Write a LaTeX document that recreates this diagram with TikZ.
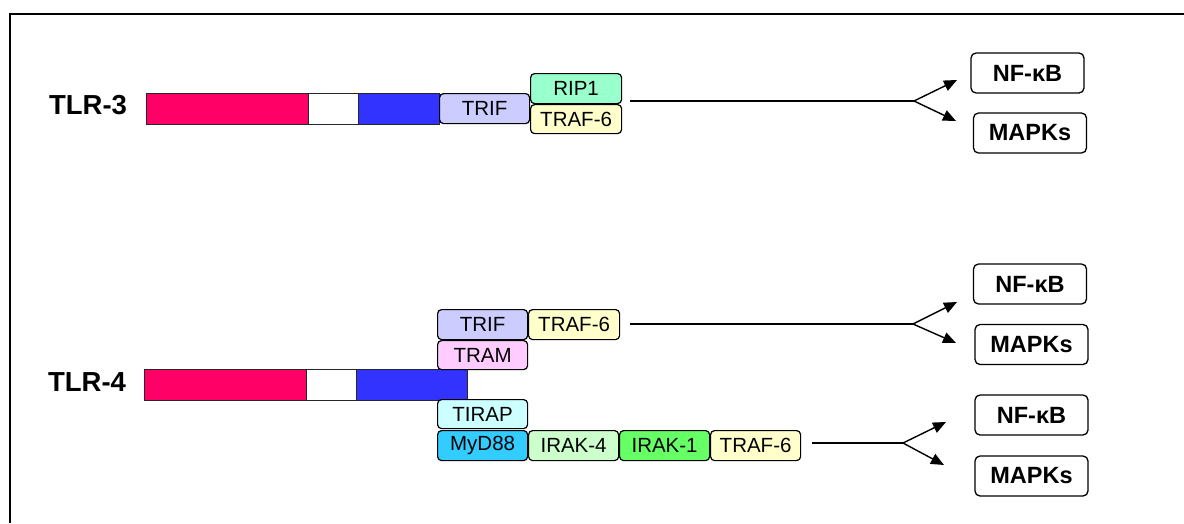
\documentclass[tikz,border=0pt]{standalone}
\usepackage{fontspec}
\setmainfont{Liberation Sans}
\usetikzlibrary{arrows.meta}
\begin{document}
\begin{tikzpicture}[x=1pt,y=-1pt,
  seg/.style={draw=black!85, line width=1.3, anchor=north west, inner sep=0, minimum height=31},
  prot/.style={draw=black, line width=1.2, rounded corners=4, anchor=north west, inner sep=0,
    minimum width=90, minimum height=30, font=\fontsize{20.5}{24}\selectfont},
  outbox/.style={draw=black, line width=1.3, rounded corners=5, inner sep=0,
    minimum width=113, minimum height=40, font=\bfseries\fontsize{23.5}{27}\selectfont},
  tlr/.style={font=\bfseries\fontsize{27.5}{32}\selectfont, inner sep=0},
  sig/.style={line width=1.4, draw=black},
  sigarrow/.style={line width=1.4, draw=black, -{Triangle[length=13,width=11]}}
]
\useasboundingbox (0,0) rectangle (1184,523);
\draw[line width=2] (10,523) -- (10,14) -- (1184,14);

% ---------------- TLR-3 ----------------
\node[tlr] (tlr3) at (88,105) {TLR-3};
\node[seg, fill={rgb,255:red,255;green,0;blue,102}, minimum width=162] (r3) at (146,93) {};
\node[seg, fill=white, minimum width=50] (w3) at (308,93) {};
\node[seg, fill={rgb,255:red,51;green,51;blue,255}, minimum width=81] (b3) at (358,93) {};
\node[prot, fill={rgb,255:red,204;green,204;blue,255}] (trif3) at (439,93) {TRIF};
\node[prot, fill={rgb,255:red,153;green,255;blue,204}, minimum width=91] (rip3) at (530,73) {RIP1};
\node[prot, fill={rgb,255:red,255;green,255;blue,204}, minimum width=91, minimum height=29] (traf3) at (530,104) {TRAF-6};
\coordinate (s3) at (630,101);
\coordinate (br3) at (914,101);
\coordinate (t3a) at (957,80);
\coordinate (t3b) at (956,121);
\node[outbox] (nf3) at (1027.5,73) {NF-κB};
\node[outbox] (mp3) at (1030,133) {MAPKs};
\draw[sig] (s3) -- (br3);
\draw[sigarrow] (br3) -- (t3a);
\draw[sigarrow] (br3) -- (t3b);

% ---------------- TLR-4 ----------------
\node[tlr] (tlr4) at (87,382) {TLR-4};
\node[seg, fill={rgb,255:red,255;green,0;blue,102}, minimum width=162] (r4) at (144,369) {};
\node[seg, fill=white, minimum width=50] (w4) at (306,369) {};
\node[seg, fill={rgb,255:red,51;green,51;blue,255}, minimum width=111] (b4) at (356,369) {};
\node[prot, fill={rgb,255:red,204;green,204;blue,255}] (trif4) at (437,309) {TRIF};
\node[prot, fill={rgb,255:red,255;green,255;blue,204}, minimum width=91] (traf4a) at (528,309) {TRAF-6};
\node[prot, fill={rgb,255:red,255;green,204;blue,255}, minimum height=29] (tram) at (437,340) {TRAM};
\node[prot, fill={rgb,255:red,204;green,255;blue,255}, minimum height=29] (tirap) at (437,399) {TIRAP};
\node[prot, fill={rgb,255:red,51;green,204;blue,255}] (myd) at (437,430) {MyD88};
\node[prot, fill={rgb,255:red,204;green,255;blue,204}] (irak4) at (528,430) {IRAK-4};
\node[prot, fill={rgb,255:red,102;green,255;blue,102}] (irak1) at (619,430) {IRAK-1};
\node[prot, fill={rgb,255:red,255;green,255;blue,204}] (traf4b) at (710,430) {TRAF-6};

\coordinate (s4a) at (630,324);
\coordinate (br4a) at (913,324);
\coordinate (t4aa) at (957,302);
\coordinate (t4ab) at (956,343);
\node[outbox] (nf4a) at (1030,284) {NF-κB};
\node[outbox] (mp4a) at (1031.5,344.5) {MAPKs};
\draw[sig] (s4a) -- (br4a);
\draw[sigarrow] (br4a) -- (t4aa);
\draw[sigarrow] (br4a) -- (t4ab);

\coordinate (s4b) at (812,443);
\coordinate (br4b) at (903,443);
\coordinate (t4ba) at (946,422);
\coordinate (t4bb) at (944,465);
\node[outbox] (nf4b) at (1031.5,415) {NF-κB};
\node[outbox] (mp4b) at (1031.5,476) {MAPKs};
\draw[sig] (s4b) -- (br4b);
\draw[sigarrow] (br4b) -- (t4ba);
\draw[sigarrow] (br4b) -- (t4bb);
\end{tikzpicture}
\end{document}
